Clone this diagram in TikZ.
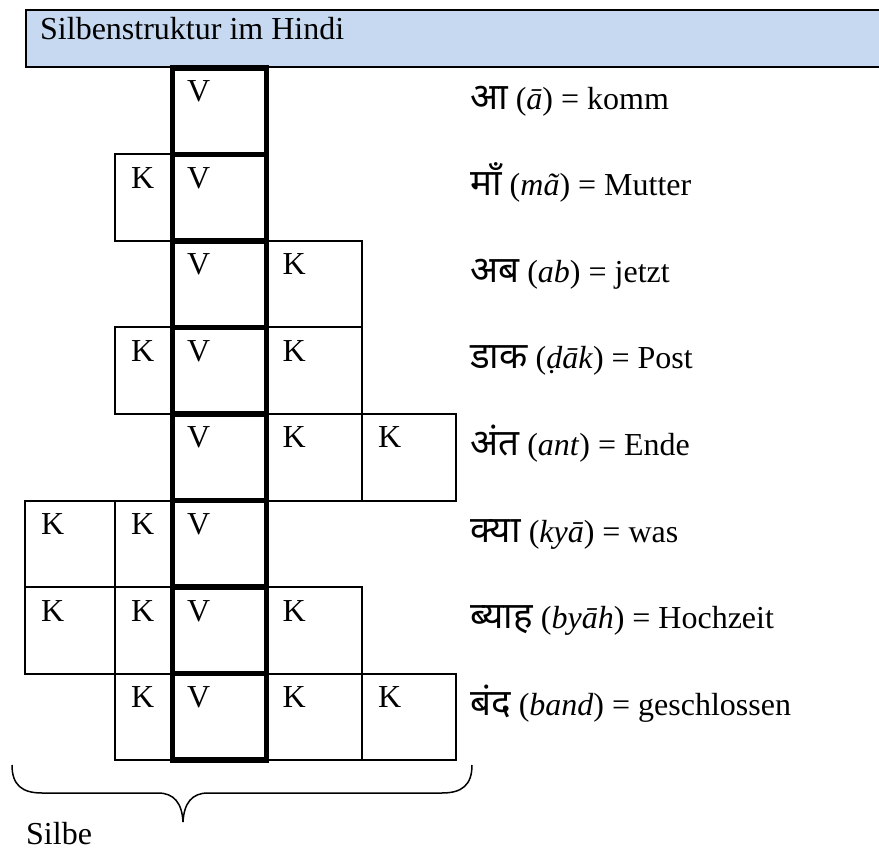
\documentclass[tikz,border=0pt]{standalone}
\usepackage{fontspec}
\setmainfont{Liberation Serif}
\newfontfamily\deva[Script=Devanagari,Scale=1.15]{Noto Sans}
\definecolor{titleblue}{RGB}{198,217,241}
\begin{document}
\begin{tikzpicture}[x=1pt,y=-1pt,
  font=\fontsize{32}{38}\selectfont,
  cellbox/.style={draw, line width=2pt, inner sep=0pt, outer sep=0pt, anchor=north west, minimum height=86.5pt},
  vbox/.style={draw, line width=5.5pt, inner sep=0pt, outer sep=0pt, anchor=north west, minimum width=94pt, minimum height=86.5pt},
  letter/.style={anchor=base west, inner sep=0pt},
  word/.style={anchor=base west, inner sep=0pt}]
\path[use as bounding box] (0,0) rectangle (879,850);
\clip (0,0) rectangle (879,850);
% title
\node[draw, line width=2pt, fill=titleblue, anchor=north west, minimum width=880pt, minimum height=57pt, inner sep=0pt] (titlebox) at (25,9) {};
\node[word] (title) at (40,40) {Silbenstruktur im Hindi};
% K cells
\foreach \r/\x/\w [count=\i] in {2/115/57.5, 3/266.5/95.5, 4/115/57.5, 4/266.5/95.5, 5/266.5/95.5, 5/362/94, 6/25/90, 6/115/57.5, 7/25/90, 7/115/57.5, 7/266.5/95.5, 8/115/57.5, 8/266.5/95.5, 8/362/94}{
  \pgfmathsetmacro\t{68+86.5*(\r-1)}
  \node[cellbox, minimum width=\w pt] (k\i) at (\x,\t) {};
  \node[letter] (kl\i) at (\x+16,\t+34) {K};
}
% V column
\foreach \r in {1,...,8}{
  \pgfmathsetmacro\t{68+86.5*(\r-1)}
  \node[vbox] (v\r) at (172.5,\t) {};
  \node[letter] (vl\r) at (187,\t+34) {V};
}
% words
\node[word] (w1) at (470,109.5) {{\deva आ} (\textit{ā}) = komm};
\node[word] (w2) at (470,196) {{\deva माँ} (\textit{mã}) = Mutter};
\node[word] (w3) at (470,282.5) {{\deva अब} (\textit{ab}) = jetzt};
\node[word] (w4) at (470,369) {{\deva डाक} (\textit{ḍāk}) = Post};
\node[word] (w5) at (470,455.5) {{\deva अंत} (\textit{ant}) = Ende};
\node[word] (w6) at (470,542) {{\deva क्या} (\textit{kyā}) = was};
\node[word] (w7) at (470,628.5) {{\deva ब्याह} (\textit{byāh}) = Hochzeit};
\node[word] (w8) at (470,715) {{\deva बंद} (\textit{band}) = geschlossen};
% brace
\draw[line width=1.5pt] (12,765) .. controls (12,785) and (22,793) .. (42,793) -- (158,793)
  .. controls (174,793) and (182,803) .. (183,822)
  .. controls (184,803) and (192,793) .. (208,793) -- (442,793)
  .. controls (462,793) and (472,785) .. (472,765);
\node[word] (silbe) at (26,844) {Silbe};
\end{tikzpicture}
\end{document}
